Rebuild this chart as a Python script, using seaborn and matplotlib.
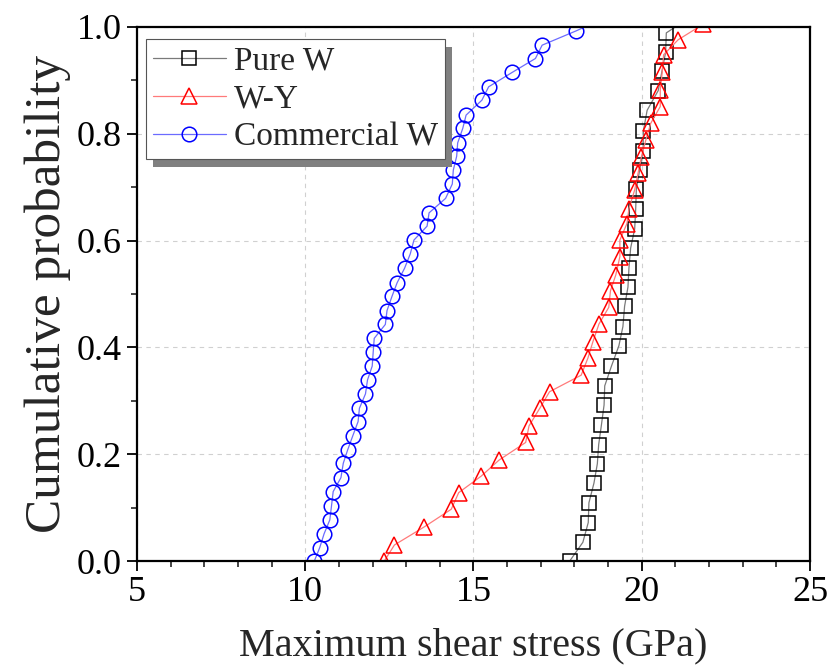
import matplotlib
matplotlib.use("Agg")
import pandas as pd
import matplotlib.pyplot as plt
import seaborn as sns
from matplotlib.ticker import MultipleLocator
from matplotlib.patches import Rectangle

# values (last point of each series sits above y=1 and is clipped)
pure_w_stress = [17.86, 18.25, 18.41, 18.43, 18.58, 18.68, 18.72, 18.80, 18.88, 18.90,
                 19.10, 19.32, 19.44, 19.49, 19.59, 19.62, 19.67, 19.79, 19.82, 19.84,
                 19.94, 20.04, 20.05, 20.16, 20.49, 20.60, 20.71, 20.73, 21.60]
pure_w_prob = [0.000, 0.035, 0.072, 0.109, 0.146, 0.182, 0.218, 0.254, 0.292, 0.328,
               0.365, 0.403, 0.439, 0.477, 0.513, 0.549, 0.586, 0.622, 0.659, 0.697,
               0.733, 0.768, 0.806, 0.844, 0.881, 0.917, 0.953, 0.989, 1.025]

wy_stress = [12.35, 12.65, 13.54, 14.34, 14.56, 15.23, 15.76, 16.55, 16.65, 16.97,
             17.26, 18.20, 18.40, 18.55, 18.73, 19.02, 19.07, 19.23, 19.35, 19.35,
             19.56, 19.62, 19.79, 19.89, 19.99, 20.12, 20.27, 20.55, 20.55, 20.61,
             20.65, 21.08, 21.82]
wy_prob = [0.000, 0.030, 0.064, 0.097, 0.128, 0.159, 0.189, 0.222, 0.253, 0.286,
           0.317, 0.348, 0.380, 0.411, 0.444, 0.475, 0.506, 0.536, 0.570, 0.601,
           0.632, 0.660, 0.695, 0.726, 0.757, 0.788, 0.820, 0.851, 0.882, 0.916,
           0.948, 0.976, 1.005]

comm_w_stress = [10.27, 10.43, 10.56, 10.73, 10.78, 10.83, 11.06, 11.13, 11.26, 11.41,
                 11.57, 11.61, 11.79, 11.85, 11.99, 12.02, 12.05, 12.38, 12.43, 12.58,
                 12.73, 12.95, 13.12, 13.23, 13.62, 13.68, 14.17, 14.37, 14.40, 14.50,
                 14.53, 14.68, 14.78, 15.25, 15.45, 16.15, 16.84, 17.04, 18.06, 19.00]
comm_w_prob = [0.000, 0.025, 0.051, 0.077, 0.103, 0.130, 0.156, 0.183, 0.208, 0.234,
               0.261, 0.286, 0.313, 0.339, 0.365, 0.392, 0.417, 0.443, 0.469, 0.496,
               0.521, 0.548, 0.575, 0.601, 0.627, 0.652, 0.679, 0.706, 0.732, 0.758,
               0.783, 0.810, 0.835, 0.863, 0.888, 0.915, 0.941, 0.966, 0.993, 1.020]

series = [
    ("Pure W", pure_w_stress, pure_w_prob, "s", "black", "#7a7a7a", 9.5),
    ("W-Y", wy_stress, wy_prob, "^", "red", "#ff7a7a", 11),
    ("Commercial W", comm_w_stress, comm_w_prob, "o", "blue", "#6b6bff", 10.5),
]

sns.set_theme(style="ticks")
plt.rcParams['font.family'] = ['Liberation Serif', 'DejaVu Serif']

fig = plt.figure(figsize=(8.28, 6.67), dpi=100)
ax = fig.add_axes([137 / 828, 1 - 561 / 667, 673 / 828, 534 / 667])

for name, xs, ys, mk, mcol, lcol, ms in series:
    df = pd.DataFrame({"stress": xs, "prob": ys})
    sns.lineplot(data=df, x="stress", y="prob", ax=ax, sort=False, estimator=None,
                 color=lcol, linewidth=0.9, marker=mk, markersize=ms,
                 markerfacecolor="none", markeredgecolor=mcol, markeredgewidth=1.1,
                 label=name)

ax.set_xlim(5, 25)
ax.set_ylim(0, 1.0)
ax.xaxis.set_major_locator(MultipleLocator(5))
ax.xaxis.set_minor_locator(MultipleLocator(1))
ax.yaxis.set_major_locator(MultipleLocator(0.2))
ax.yaxis.set_minor_locator(MultipleLocator(0.1))
ax.yaxis.set_major_formatter(matplotlib.ticker.FormatStrFormatter('%.1f'))

ax.grid(True, which='major', linestyle=(0, (4, 4)), linewidth=0.8, color='#d0d0d0')
for sp in ax.spines.values():
    sp.set_linewidth(1.6)
    sp.set_color('black')
ax.tick_params(which='major', direction='out', length=7, width=1.3, labelsize=26,
               colors='black', pad=4)
ax.tick_params(which='minor', direction='out', length=4, width=1.2)

ax.set_xlabel("Maximum shear stress (GPa)", fontsize=29, labelpad=13)
ax.set_ylabel("Cumulative probability", fontsize=37, labelpad=4)

leg = ax.legend(loc='upper left', bbox_to_anchor=(0.0134, 0.9775), borderaxespad=0,
                fontsize=24, frameon=True, fancybox=False, framealpha=1,
                edgecolor='#555555', handlelength=2.2, handletextpad=0.25,
                labelspacing=0.23, borderpad=0.2)
leg.get_frame().set_linewidth(0.8)
for h in leg.legend_handles:
    h.set_linewidth(0.9)

# Origin-style drop shadow behind the legend box
fig.canvas.draw()
bb = leg.get_window_extent().transformed(ax.transAxes.inverted())
dx, dy = 7 / 673, -8 / 534
ax.add_patch(Rectangle((bb.x0 + dx, bb.y0 + dy), bb.width, bb.height,
                       transform=ax.transAxes, facecolor='#808080', edgecolor='none',
                       zorder=4.5, clip_on=False))

fig.savefig("out.png", dpi=100)
